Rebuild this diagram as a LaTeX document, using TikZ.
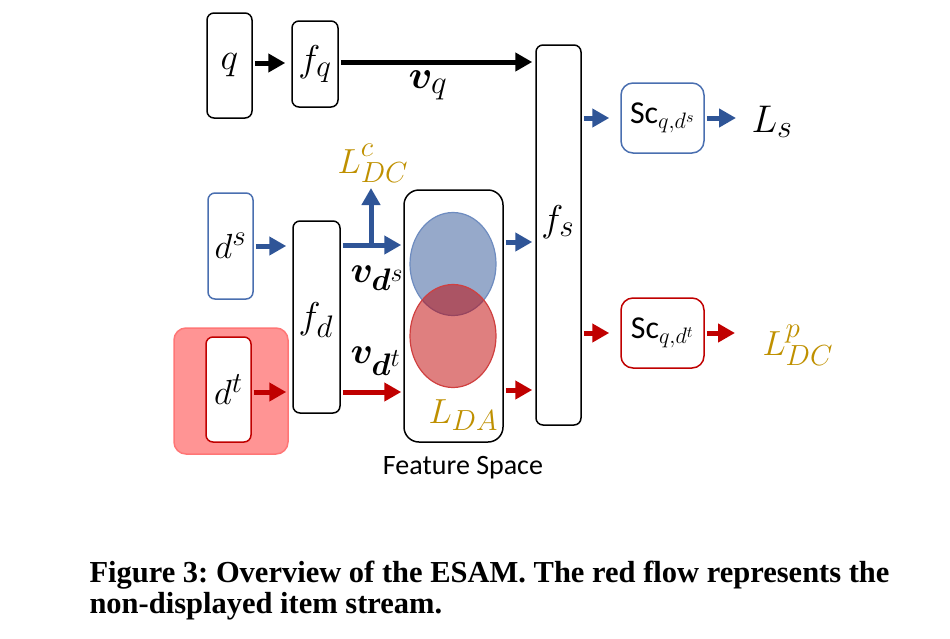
\RequirePackage{fix-cm}
\documentclass[tikz,border=0pt]{standalone}
\usepackage{bm}
\usepackage{fontspec}
\newfontfamily\calibri{Carlito}
\newfontfamily\capfont{Liberation Serif}
\usetikzlibrary{arrows.meta,shapes.geometric}

\definecolor{flowblue}{HTML}{2F5597}
\definecolor{flowred}{HTML}{C00000}
\definecolor{lossgold}{HTML}{BF9000}
\definecolor{boxblue}{HTML}{4A6FB0}
\definecolor{shadered}{HTML}{FF9494}

\newcommand{\biglbl}[2][1.4]{\scalebox{#1}{#2}}

\begin{document}
\frenchspacing
\begin{tikzpicture}[x=1pt,y=-1pt,>={Triangle[length=17pt,width=18pt]},
    box/.style={draw,rounded corners=7pt,line width=1.5pt,fill=white,inner sep=0pt},
    flow/.style={->,line width=5pt,shorten >=6pt,shorten <=2pt},
    lbl/.style={font=\fontsize{24.88}{30}\selectfont},
    loss/.style={lbl,text=lossgold},
    score/.style={box,rounded corners=12pt,minimum width=83,minimum height=70,font=\calibri\fontsize{22}{26}\selectfont},
    blob/.style={ellipse,draw,line width=1.2pt,inner sep=0pt,minimum width=86,minimum height=103}]

    \useasboundingbox (0,0) rectangle (950,638);

    % query branch
    \node[box,minimum width=45,minimum height=105,lbl] (q) at (229.5,65.5) {\biglbl[1.5]{$q$}};
    \node[box,minimum width=46,minimum height=86,lbl] (fq) at (315,64) {\biglbl[1.5]{$f_q$}};
    \node[box,minimum width=45,minimum height=380] (fs) at (558.5,235) {};
    \node[lbl] (fslbl) at (558,222) {\biglbl[1.5]{$f_s$}};

    % item branch
    \node[box,draw=boxblue,minimum width=45,minimum height=106,lbl] (ds) at (230.5,246) {\biglbl{$d^s$}};
    \node[box,draw=shadered!80!red,fill=shadered,rounded corners=12pt,minimum width=114,minimum height=126] (dtback) at (231,391) {};
    \node[box,draw=flowred,minimum width=45,minimum height=105,lbl] (dt) at (228.5,389.5) {\biglbl{$d^t$}};
    \node[box,minimum width=47,minimum height=192] (fd) at (316.5,317) {};
    \node[lbl] (fdlbl) at (316,320) {\biglbl[1.5]{$f_d$}};

    % feature space
    \node[box,rounded corners=15pt,minimum width=99,minimum height=252] (FS) at (453.5,316) {};
    \node[blob,draw=boxblue!80,fill=flowblue,fill opacity=0.5] (blueblob) at (453,264) {};
    \node[blob,draw=flowred!75,fill=flowred,fill opacity=0.5] (redblob) at (453,336) {};
    \node[font=\calibri\fontsize{28}{32}\selectfont] (fslabel) at (463,468) {Feature Space};

    % scores
    \node[score,draw=boxblue] (scs) at (662.5,118) {\biglbl[1.45]{Sc$_{q,d^s}$}};
    \node[score,draw=flowred] (sct) at (662.5,333) {\biglbl[1.45]{Sc$_{q,d^t}$}};

    % labels
    \node[lbl,anchor=base west] (vq) at (405,88) {\biglbl[1.6]{$\bm{v}_q$}};
    \node[lbl,anchor=base west] (vds) at (347,282) {\biglbl[1.5]{$\bm{v}_{\bm{d}^s}$}};
    \node[lbl,anchor=base west] (vdt) at (347,363) {\biglbl[1.5]{$\bm{v}_{\bm{d}^t}$}};
    \node[loss,anchor=base] (Lc) at (373,173) {\biglbl[1.4]{$L^{\raisebox{3pt}{$\scriptstyle c$}}_{DC}$}};
    \node[loss,anchor=base west] (LDA) at (425,423) {\biglbl[1.4]{$L_{DA}$}};
    \node[lbl,anchor=base west] (Ls) at (748,132) {\biglbl[1.55]{$L_s$}};
    \node[loss,anchor=base west] (Lp) at (759,355) {\biglbl[1.4]{$L^p_{DC}$}};

    % flows
    \coordinate (br) at (371,245);
    \coordinate (lctip) at (371,188);
    \draw[flow] (q.east |- 0,63) -- (fq.west |- 0,63);
    \draw[flow,shorten >=3pt] (fq.east |- 0,62) -- (fs.west |- 0,62);
    \draw[flow,flowblue] (ds.east) -- (fd.west |- ds.east);
    \draw[flow,flowred] (dt.east |- 0,392) -- (fd.west |- 0,392);
    \draw[flow,flowblue,shorten >=2pt] (fd.east |- br) -- (FS.west |- br);
    \draw[flow,flowblue,shorten <=0pt,shorten >=0pt] (br) -- (lctip);
    \draw[flow,flowred,shorten >=2pt] (fd.east |- 0,392) -- (FS.west |- 0,392);
    \draw[flow,flowblue,shorten >=3pt] (FS.east |- 0,242) -- (fs.west |- 0,242);
    \draw[flow,flowred,shorten >=3pt] (FS.east |- 0,390) -- (fs.west |- 0,390);
    \draw[flow,flowblue,shorten >=11pt] (fs.east |- scs) -- (scs.west);
    \draw[flow,flowblue,shorten >=12pt] (scs.east) -- (scs.east -| Ls.west);
    \draw[flow,flowred,shorten >=11pt] (fs.east |- sct) -- (sct.west);
    \draw[flow,flowred,shorten >=24pt] (sct.east) -- (sct.east -| Lp.west);

    % caption
    \node[anchor=base west,font=\capfont\bfseries\fontsize{30.5}{34}\selectfont] (cap1) at (86,582) {Figure 3: Overview of the ESAM. The red flow represents the};
    \node[anchor=base west,font=\capfont\bfseries\fontsize{30.5}{34}\selectfont] (cap2) at (86,613) {non-displayed item stream.};

\end{tikzpicture}
\end{document}
